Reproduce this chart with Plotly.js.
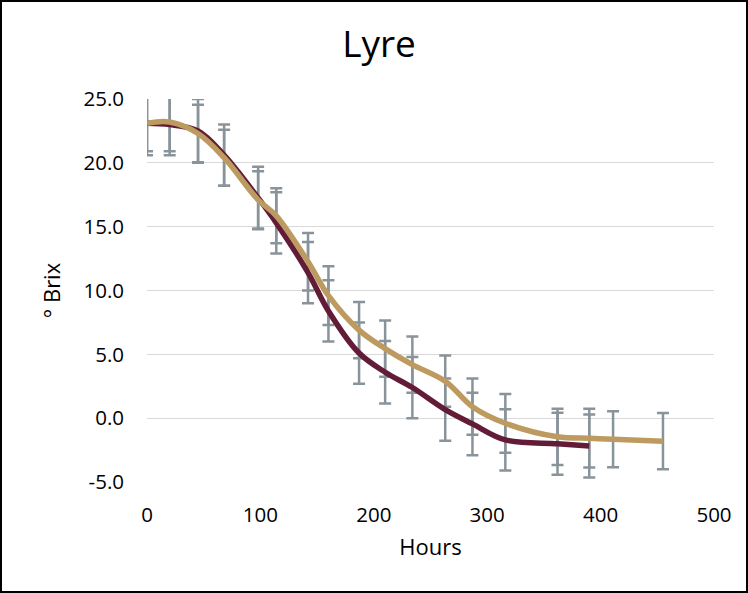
<!DOCTYPE html>
<html>
<head>
<meta charset="utf-8">
<script src="https://cdn.plot.ly/plotly-3.0.1.min.js"></script>
<style>
  html, body { margin: 0; padding: 0; background: #fff; }
  #wrap { position: relative; width: 748px; height: 593px; }
  #chart { width: 748px; height: 593px; }
  #frame { position: absolute; left: 0; top: 0; width: 748px; height: 593px; box-sizing: border-box; border: 2px solid #000; pointer-events: none; }
</style>
</head>
<body>
<div id="wrap"><div id="chart"></div><div id="frame"></div></div>
<script>
// Sampling times (hours)
var hoursA = [0, 20, 45, 68, 98, 114, 142, 160, 187, 210, 234, 263, 287, 316, 362, 390];
var hoursB = [0, 20, 45, 68, 98, 114, 142, 160, 187, 210, 234, 263, 287, 316, 362, 390, 411, 455];

// Series A (burgundy) °Brix means and error
var brixA = [23.1, 23.0, 22.5, 20.6, 17.25, 15.3, 11.4, 8.4, 5.1, 3.6, 2.4, 0.67, -0.45, -1.7, -2.0, -2.18];
var errA  = [2.5, 2.4, 2.5, 2.4, 2.45, 2.4, 2.4, 2.4, 2.4, 2.45, 2.4, 2.43, 2.45, 2.4, 2.43, 2.47];

// Series B (gold) °Brix means and error
var brixB = [23.1, 23.2, 22.3, 20.4, 17.1, 15.85, 12.25, 9.6, 6.9, 5.45, 4.2, 2.9, 0.9, -0.4, -1.46, -1.57, -1.65, -1.8];
var errB  = [2.2, 2.3, 2.25, 2.2, 2.25, 2.15, 2.25, 2.3, 2.2, 2.2, 2.2, 2.0, 2.2, 2.3, 2.2, 2.3, 2.2, 2.2];

var xTicks = [0, 100, 200, 300, 400, 500];
var yTicks = [-5, 0, 5, 10, 15, 20, 25];

var colA = '#621c38';
var colB = '#bd9b60';
var errCol = '#89939a';

function errTrace(x, y, e) {
  return {
    x: x, y: y, type: 'scatter', mode: 'lines',
    line: {color: 'rgba(0,0,0,0)', width: 0},
    error_y: {type: 'data', array: e, visible: true, color: errCol, thickness: 2.5, width: 6},
    hoverinfo: 'skip', showlegend: false
  };
}
function lineTrace(x, y, c, name) {
  return {
    x: x, y: y, type: 'scatter', mode: 'lines', name: name,
    line: {color: c, width: 5.5, shape: 'spline', smoothing: 1},
    showlegend: false
  };
}

var data = [
  errTrace(hoursA, brixA, errA),
  errTrace(hoursB, brixB, errB),
  lineTrace(hoursA, brixA, colA, 'A'),
  lineTrace(hoursB, brixB, colB, 'B')
];

var font = "'Open Sans', 'Noto Sans', sans-serif";
var layout = {
  width: 748, height: 593,
  paper_bgcolor: '#fff', plot_bgcolor: '#fff',
  margin: {l: 146.5, r: 34, t: 99.3, b: 111.3, pad: 0},
  showlegend: false,
  font: {family: font, color: '#000'},
  title: {text: 'Lyre', font: {family: font, size: 37, color: '#000'},
          x: 379/748, xanchor: 'center', xref: 'container', yref: 'container', y: 1 - 44/593, yanchor: 'middle'},
  xaxis: {
    range: [0, 500], tickvals: xTicks, ticktext: xTicks.map(String),
    showgrid: false, zeroline: false, showline: false, ticks: '',
    tickfont: {family: font, size: 20.5, color: '#000'},
    ticklabelstandoff: 18,
    title: {text: 'Hours', font: {family: font, size: 22, color: '#000'}, standoff: 13}
  },
  yaxis: {
    range: [-5, 25], tickvals: yTicks, ticktext: yTicks.map(function(v){return v.toFixed(1);}),
    showgrid: true, gridcolor: '#d9d9d9', gridwidth: 1.3, zeroline: false, showline: false, ticks: '',
    tickfont: {family: font, size: 20.5, color: '#000'},
    ticklabelstandoff: 22,
    title: {text: '° Brix', font: {family: font, size: 22, color: '#000'}, standoff: 16}
  }
};

Plotly.newPlot('chart', data, layout, {displayModeBar: false, staticPlot: true});
</script>
</body>
</html>
